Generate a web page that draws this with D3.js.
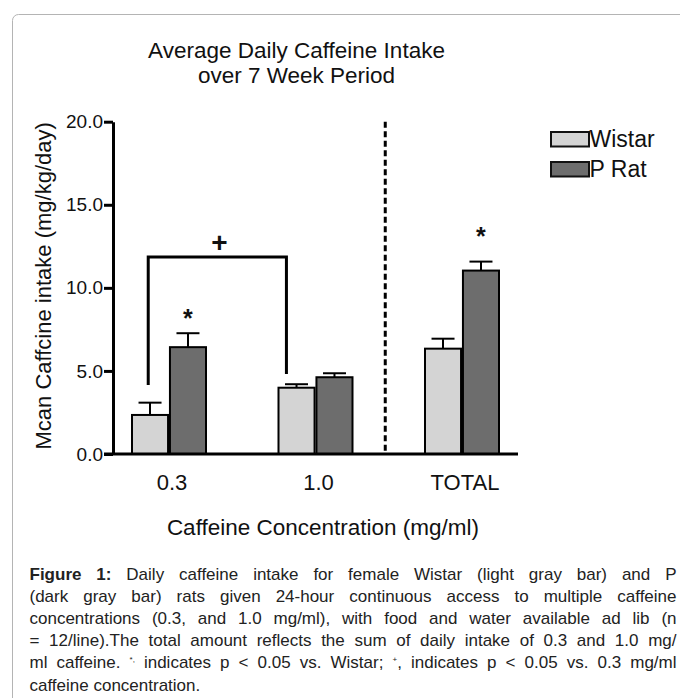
<!DOCTYPE html>
<html>
<head>
<meta charset="utf-8">
<script src="https://cdn.jsdelivr.net/npm/d3@7"></script>
<style>
  body { margin: 0; background: #fff; }
  #chart { position: relative; width: 680px; height: 698px; overflow: hidden; font-family: "Liberation Sans", Arial, sans-serif; }
  #caption { position: absolute; left: 29.5px; top: 563.5px; width: 647px; font-size: 17px; line-height: 22.2px; color: #222; }
  #caption div { text-align: justify; text-align-last: justify; white-space: normal; }
  #caption div.last { text-align-last: left; }
  #caption sup { font-size: 8px; vertical-align: 6px; line-height: 0; }
</style>
</head>
<body>
<div id="chart"></div>
<script>
// ---------------------------------- DATA ---------------------------------- //

let categories = ['0.3', '1.0', 'TOTAL'];
let series = ['Wistar', 'P Rat'];
let wistar_mean = [2.35, 3.99, 6.34];
let wistar_sem = [0.74, 0.21, 0.60];
let prat_mean = [6.43, 4.62, 11.04];
let prat_sem = [0.84, 0.24, 0.54];
let y_ticks = [0, 5, 10, 15, 20];
// significance marks: [category, series, y value of mark centre]
let star_marks = [['0.3', 'P Rat', 8.5], ['TOTAL', 'P Rat', 13.4]];
// bracket between 0.3 and 1.0: left foot, top, right foot
let bracket_values = [4.16, 11.85, 4.82];
let plus_value = 12.7;

// ---------------------------------- SETTINGS ---------------------------------- //

let img_width = 680;
let img_height = 698;
let fill_light = '#d4d4d4';
let fill_dark = '#6d6d6d';
let text_color = '#111';
let font = '"Liberation Sans", Arial, sans-serif';

let svg = d3.select('#chart')
  .append('svg')
  .attr('width', img_width)
  .attr('height', img_height)
  .style('position', 'absolute')
  .style('left', '0px')
  .style('top', '0px')
  .style('font-family', font);

// frame
svg.append('rect')
  .attr('x', 12.5)
  .attr('y', 14.5)
  .attr('width', 720)
  .attr('height', 760)
  .attr('rx', 6)
  .attr('fill', 'none')
  .attr('stroke', '#b4b4b4')
  .attr('stroke-width', 1);

// ---------------------------------- SCALES ---------------------------------- //

let x = d3.scalePoint().domain(categories).range([169, 462]);
let x_inner = d3.scaleBand().domain(series).range([-37, 37]).paddingInner(0.05);
let y = d3.scaleLinear().domain([0, 20]).range([454, 121.7]);
let color = d3.scaleOrdinal().domain(series).range([fill_light, fill_dark]);

let rows = [];
categories.forEach((c, i) => {
  rows.push({ cat: c, ser: 'Wistar', mean: wistar_mean[i], sem: wistar_sem[i] });
  rows.push({ cat: c, ser: 'P Rat', mean: prat_mean[i], sem: prat_sem[i] });
});

function barLeft(d) { return x(d.cat) + x_inner(d.ser); }
function barMid(cat, ser) { return x(cat) + x_inner(ser) + x_inner.bandwidth() / 2; }

// ---------------------------------- TITLE ---------------------------------- //

let title = svg.append('text')
  .attr('x', 296.5)
  .attr('y', 58.3)
  .attr('text-anchor', 'middle')
  .attr('font-size', '22.5px')
  .attr('fill', text_color);
title.append('tspan').attr('x', 296.5).text('Average Daily Caffeine Intake');
title.append('tspan').attr('x', 296.5).attr('dy', 25).text('over 7 Week Period');

// ---------------------------------- DIVIDER ---------------------------------- //

let divider_x = (x('1.0') + x('TOTAL')) / 2 - 3.5;
svg.append('line')
  .attr('x1', divider_x).attr('x2', divider_x)
  .attr('y1', y(20)).attr('y2', y(0))
  .attr('stroke', '#000')
  .attr('stroke-width', 3)
  .attr('stroke-dasharray', '6,3.5');

// ---------------------------------- BARS ---------------------------------- //

let g_bars = svg.append('g');

g_bars.selectAll('rect')
  .data(rows)
  .enter()
  .append('rect')
  .attr('x', barLeft)
  .attr('y', d => y(d.mean))
  .attr('width', x_inner.bandwidth())
  .attr('height', d => y(0) - y(d.mean))
  .attr('fill', d => color(d.ser))
  .attr('stroke', '#000')
  .attr('stroke-width', 2);

// error bars (upper only)
let g_err = svg.append('g').attr('stroke', '#000').attr('stroke-width', 2);
g_err.selectAll('line.v')
  .data(rows)
  .enter()
  .append('line')
  .attr('class', 'v')
  .attr('x1', d => barMid(d.cat, d.ser))
  .attr('x2', d => barMid(d.cat, d.ser))
  .attr('y1', d => y(d.mean))
  .attr('y2', d => y(d.mean + d.sem));
g_err.selectAll('line.cap')
  .data(rows)
  .enter()
  .append('line')
  .attr('class', 'cap')
  .attr('x1', d => barMid(d.cat, d.ser) - 11.5)
  .attr('x2', d => barMid(d.cat, d.ser) + 11.5)
  .attr('y1', d => y(d.mean + d.sem))
  .attr('y2', d => y(d.mean + d.sem));

// ---------------------------------- AXES ---------------------------------- //

let y_axis = svg.append('g')
  .attr('transform', 'translate(113,0)')
  .call(d3.axisLeft(y).tickValues(y_ticks).tickFormat(d3.format('.1f')).tickSize(9).tickPadding(1).tickSizeOuter(0));
y_axis.select('.domain').attr('stroke-width', 3);
y_axis.selectAll('.tick line').attr('stroke-width', 3);
y_axis.selectAll('.tick text')
  .attr('font-size', '19px')
  .attr('font-family', font)
  .attr('fill', text_color);

svg.append('line')
  .attr('x1', 104).attr('x2', 518)
  .attr('y1', y(0)).attr('y2', y(0))
  .attr('stroke', '#000')
  .attr('stroke-width', 3);

svg.append('g')
  .selectAll('text')
  .data(categories)
  .enter()
  .append('text')
  .attr('x', d => x(d) + 3)
  .attr('y', 490)
  .attr('text-anchor', 'middle')
  .attr('font-size', '22px')
  .attr('fill', text_color)
  .text(d => d);

svg.append('text')
  .attr('x', 323)
  .attr('y', 535)
  .attr('text-anchor', 'middle')
  .attr('font-size', '22.5px')
  .attr('fill', text_color)
  .text('Caffeine Concentration (mg/ml)');

svg.append('text')
  .attr('transform', `translate(50.5,${(y(0) + y(20)) / 2 - 2}) rotate(-90)`)
  .attr('text-anchor', 'middle')
  .attr('font-size', '22px')
  .attr('fill', text_color)
  .text('Mcan Caffcine intake (mg/kg/day)');

// ---------------------------------- SIGNIFICANCE ---------------------------------- //

svg.append('g')
  .selectAll('text')
  .data(star_marks)
  .enter()
  .append('text')
  .attr('x', d => barMid(d[0], d[1]))
  .attr('y', d => y(d[2]) + 14)
  .attr('text-anchor', 'middle')
  .attr('font-size', '25px')
  .attr('font-weight', 'bold')
  .attr('fill', text_color)
  .text('*');

let bracket_left = x('0.3') + x_inner('Wistar') + x_inner.bandwidth() * 0.45;
let bracket_right = x('1.0') + x_inner('Wistar') + x_inner.bandwidth() * 0.22;
svg.append('path')
  .attr('d', d3.line()([
    [bracket_left, y(bracket_values[0])],
    [bracket_left, y(bracket_values[1])],
    [bracket_right, y(bracket_values[1])],
    [bracket_right, y(bracket_values[2])]
  ]))
  .attr('fill', 'none')
  .attr('stroke', '#000')
  .attr('stroke-width', 3);

svg.append('text')
  .attr('x', (bracket_left + bracket_right) / 2 + 2)
  .attr('y', y(plus_value))
  .attr('dominant-baseline', 'central')
  .attr('text-anchor', 'middle')
  .attr('font-size', '28px')
  .attr('font-weight', 'bold')
  .attr('fill', text_color)
  .text('+');

// ---------------------------------- LEGEND ---------------------------------- //

let legend = svg.append('g')
  .selectAll('g')
  .data(series)
  .enter()
  .append('g')
  .attr('transform', (d, i) => `translate(551,${132 + i * 30})`);
legend.append('rect')
  .attr('width', 38)
  .attr('height', 14.5)
  .attr('fill', d => color(d))
  .attr('stroke', '#111')
  .attr('stroke-width', 2);
legend.append('text')
  .attr('x', 38.5)
  .attr('y', 15)
  .attr('font-size', '23px')
  .attr('fill', text_color)
  .text(d => d);

// ---------------------------------- CAPTION ---------------------------------- //

let caption_lines = [
  '<b>Figure 1:</b> Daily caffeine intake for female Wistar (light gray bar) and P',
  '(dark gray bar) rats given 24-hour continuous access to multiple caffeine',
  'concentrations (0.3, and 1.0 mg/ml), with food and water available ad lib (n',
  '= 12/line).The total amount reflects the sum of daily intake of 0.3 and 1.0 mg/',
  'ml caffeine. <sup>*,</sup> indicates p &lt; 0.05 vs. Wistar; <sup>+</sup>, indicates p &lt; 0.05 vs. 0.3 mg/ml',
  'caffeine concentration.'
];
d3.select('#chart')
  .append('div')
  .attr('id', 'caption')
  .selectAll('div')
  .data(caption_lines)
  .enter()
  .append('div')
  .attr('class', (d, i) => i === caption_lines.length - 1 ? 'last' : null)
  .html(d => d);
</script>
</body>
</html>
